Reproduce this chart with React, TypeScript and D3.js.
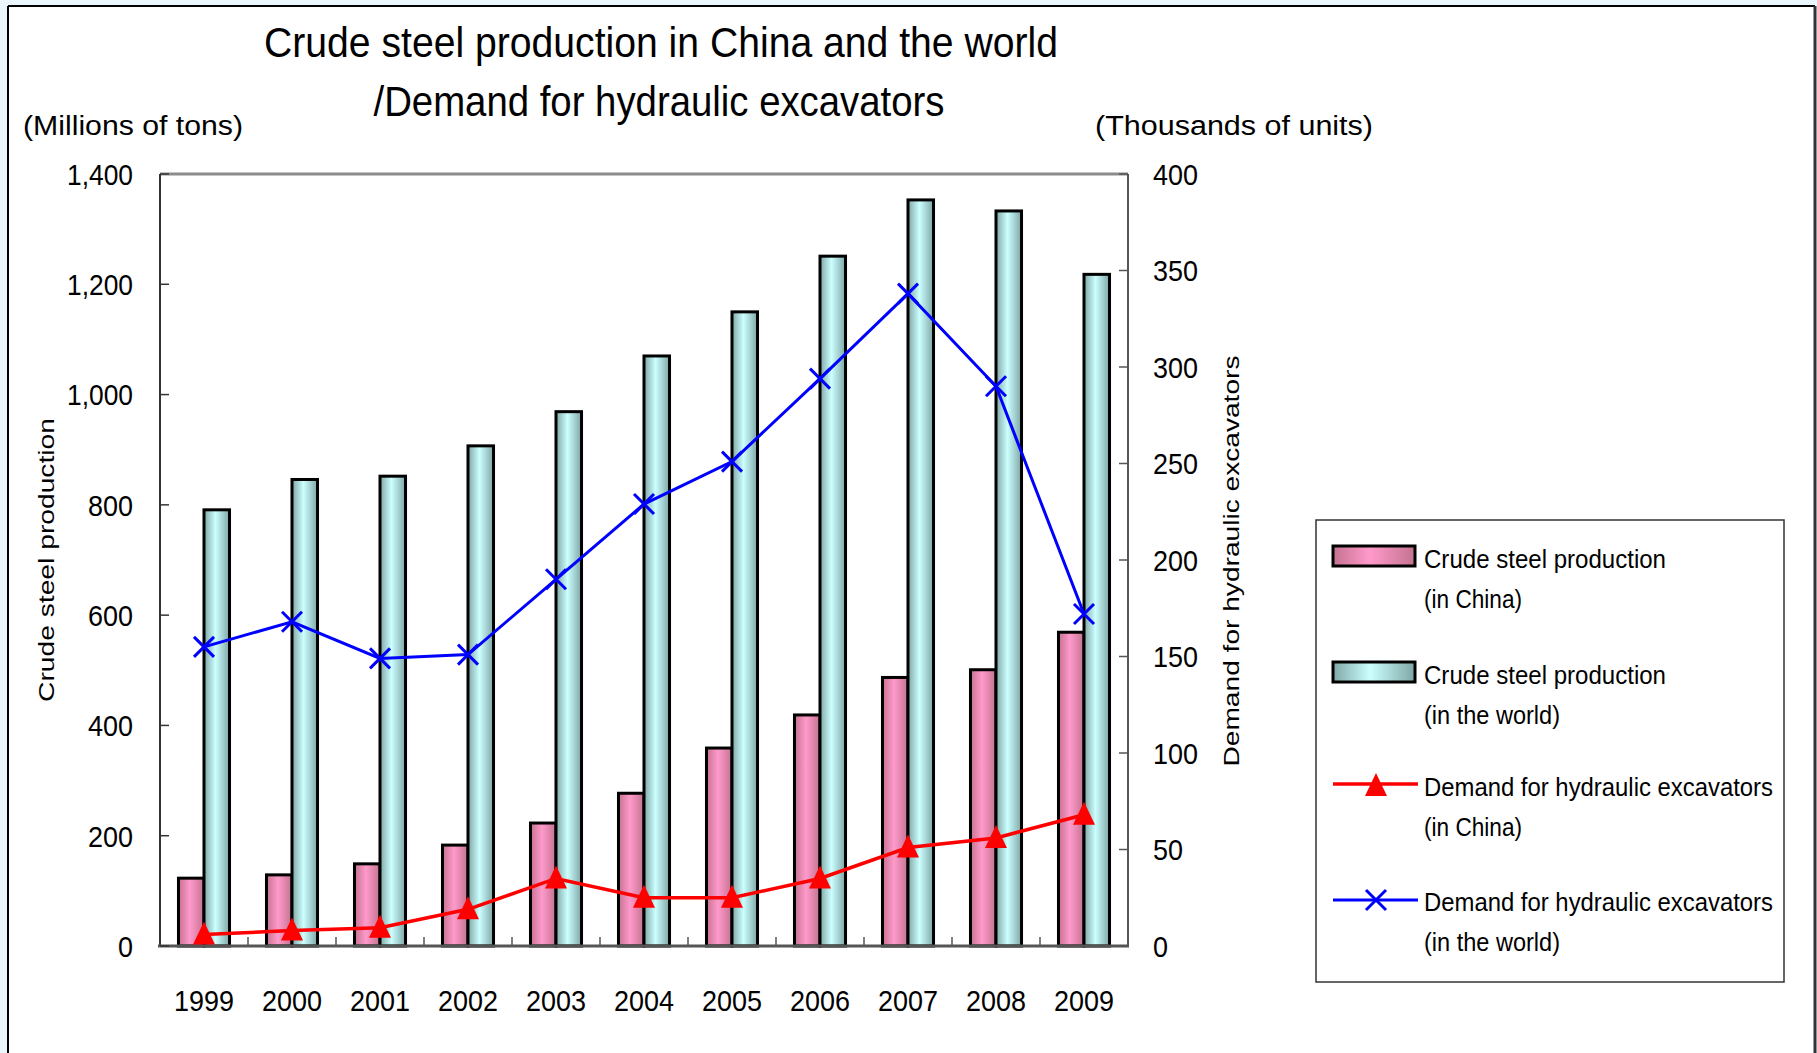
import * as d3 from "d3";

const years = ["1999", "2000", "2001", "2002", "2003", "2004", "2005", "2006", "2007", "2008", "2009"];
// crude steel production, millions of tons
const chinaSteel = [123, 129, 149, 183, 223, 277, 359, 419, 487, 501, 569];
const worldSteel = [791, 846, 852, 907, 969, 1070, 1150, 1251, 1353, 1333, 1218];
// demand for hydraulic excavators, thousands of units
const chinaExcavators = [6, 8, 9.5, 19, 35, 25, 25, 35, 51, 56, 68];
const worldExcavators = [155, 168, 149, 151, 190, 229, 251, 294, 338, 290, 172];

const steelTicks = [0, 200, 400, 600, 800, 1000, 1200, 1400];
const unitTicks = [0, 50, 100, 150, 200, 250, 300, 350, 400];

const W = 1817;
const H = 1053;
const plot = { left: 160, right: 1128, top: 174, bottom: 946 };
const font = "'Liberation Sans', Arial, sans-serif";

// narrow numeric labels: about 15px per digit, 6px per comma
const numWidth = (s: string) => s.replace(/,/g, "").length * 15 + (s.match(/,/g) || []).length * 6;

export default function App() {
  const x = d3
    .scaleBand<string>()
    .domain(years)
    .range([plot.left, plot.right])
    .paddingInner(0.42)
    .paddingOuter(0.21);
  const sub = d3.scaleBand<string>().domain(["china", "world"]).range([0, x.bandwidth()]);
  const yL = d3.scaleLinear().domain([0, 1400]).range([plot.bottom, plot.top]);
  const yR = d3.scaleLinear().domain([0, 400]).range([plot.bottom, plot.top]);
  const cx = (y: string) => (x(y) ?? 0) + x.bandwidth() / 2;

  const lineR = d3
    .line<number>()
    .x((_, i) => cx(years[i]))
    .y((d) => yR(d));

  const step = x.step();
  const tri = "M0,-13L11,10L-11,10Z";
  const cross = "M-10,-10L10,10M-10,10L10,-10";
  const fmt = d3.format(",");

  const bars = [
    { key: "china", values: chinaSteel, fill: "url(#gPink)" },
    { key: "world", values: worldSteel, fill: "url(#gCyan)" },
  ];

  const legendX = 1333;
  const legendText = 1424;

  return (
    <svg
      width={W}
      height={H}
      style={{ position: "absolute", left: 0, top: 0, fontFamily: font }}
    >
      <defs>
        <linearGradient id="gPink" x1="0" x2="1" y1="0" y2="0">
          <stop offset="0%" stopColor="#c47290" />
          <stop offset="45%" stopColor="#ff9acb" />
          <stop offset="100%" stopColor="#c47290" />
        </linearGradient>
        <linearGradient id="gCyan" x1="0" x2="1" y1="0" y2="0">
          <stop offset="0%" stopColor="#7fa6a6" />
          <stop offset="45%" stopColor="#ccffff" />
          <stop offset="100%" stopColor="#7fa6a6" />
        </linearGradient>
      </defs>

      <rect x={0} y={0} width={W} height={H} fill="#eaf5fc" />
      <rect x={8} y={6} width={1806} height={H} fill="#fff" />
      <line x1={8} y1={6} x2={8} y2={H} stroke="#000" strokeWidth={2} />
      <line x1={8} y1={6} x2={1815} y2={6} stroke="#000" strokeWidth={2} />
      <line x1={1815} y1={6} x2={1815} y2={H} stroke="#333" strokeWidth={3} />

      {/* title */}
      <text x={661} y={57} fontSize={42} textAnchor="middle" textLength={794} lengthAdjust="spacingAndGlyphs">
        Crude steel production in China and the world
      </text>
      <text x={659} y={116} fontSize={42} textAnchor="middle" textLength={571} lengthAdjust="spacingAndGlyphs">
        /Demand for hydraulic excavators
      </text>
      <text x={23} y={135} fontSize={27} textLength={220} lengthAdjust="spacingAndGlyphs">
        (Millions of tons)
      </text>
      <text x={1095} y={135} fontSize={27} textLength={278} lengthAdjust="spacingAndGlyphs">
        (Thousands of units)
      </text>

      {/* axis titles */}
      <text
        transform="translate(54,560) rotate(-90)"
        fontSize={22}
        textAnchor="middle"
        textLength={284}
        lengthAdjust="spacingAndGlyphs"
      >
        Crude steel production
      </text>
      <text
        transform="translate(1239,561) rotate(-90)"
        fontSize={22}
        textAnchor="middle"
        textLength={411}
        lengthAdjust="spacingAndGlyphs"
      >
        Demand for hydraulic excavators
      </text>

      {/* bars */}
      {bars.map((s) =>
        s.values.map((v, i) => (
          <rect
            key={s.key + years[i]}
            x={(x(years[i]) ?? 0) + (sub(s.key) ?? 0)}
            y={yL(v)}
            width={sub.bandwidth()}
            height={plot.bottom - yL(v)}
            fill={s.fill}
            stroke="#000"
            strokeWidth={3}
          />
        ))
      )}

      {/* frame and axes */}
      <line x1={plot.left} y1={plot.top} x2={plot.right} y2={plot.top} stroke="#8c8c8c" strokeWidth={3} />
      <line x1={plot.left} y1={plot.top} x2={plot.left} y2={plot.bottom} stroke="#333" strokeWidth={2} />
      <line x1={plot.right} y1={plot.top} x2={plot.right} y2={plot.bottom} stroke="#555" strokeWidth={2} />
      <line x1={plot.left - 2} y1={plot.bottom} x2={plot.right + 1} y2={plot.bottom} stroke="#555" strokeWidth={3} />

      {steelTicks.map((t) => (
        <g key={"l" + t}>
          <line x1={plot.left} x2={plot.left + 9} y1={yL(t)} y2={yL(t)} stroke="#333" strokeWidth={1.5} />
          <text
            x={133}
            y={yL(t)}
            dy="0.36em"
            fontSize={30}
            textAnchor="end"
            textLength={numWidth(fmt(t))}
            lengthAdjust="spacingAndGlyphs"
          >
            {fmt(t)}
          </text>
        </g>
      ))}
      {unitTicks.map((t) => (
        <g key={"r" + t}>
          <line x1={plot.right - 9} x2={plot.right} y1={yR(t)} y2={yR(t)} stroke="#555" strokeWidth={1.5} />
          <text
            x={1153}
            y={yR(t)}
            dy="0.36em"
            fontSize={30}
            textLength={numWidth(String(t))}
            lengthAdjust="spacingAndGlyphs"
          >
            {t}
          </text>
        </g>
      ))}
      {years.slice(1).map((yr) => (
        <line
          key={"xt" + yr}
          x1={(x(yr) ?? 0) - (step - x.bandwidth()) / 2}
          x2={(x(yr) ?? 0) - (step - x.bandwidth()) / 2}
          y1={plot.bottom}
          y2={plot.bottom - 9}
          stroke="#555"
          strokeWidth={1.5}
        />
      ))}
      {years.map((yr) => (
        <text
          key={"xl" + yr}
          x={cx(yr)}
          y={1011}
          fontSize={30}
          textAnchor="middle"
          textLength={60}
          lengthAdjust="spacingAndGlyphs"
        >
          {yr}
        </text>
      ))}

      {/* lines */}
      <path d={lineR(chinaExcavators) ?? ""} fill="none" stroke="#ff0000" strokeWidth={3.5} />
      {chinaExcavators.map((v, i) => (
        <path key={"t" + i} d={tri} transform={`translate(${cx(years[i])},${yR(v)})`} fill="#ff0000" />
      ))}
      <path d={lineR(worldExcavators) ?? ""} fill="none" stroke="#0000ff" strokeWidth={3} />
      {worldExcavators.map((v, i) => (
        <path
          key={"c" + i}
          d={cross}
          transform={`translate(${cx(years[i])},${yR(v)})`}
          fill="none"
          stroke="#0000ff"
          strokeWidth={3}
        />
      ))}

      {/* legend */}
      <rect x={1316} y={520} width={468} height={462} fill="#fff" stroke="#333" strokeWidth={1.5} />
      <rect x={legendX} y={546} width={82} height={20} fill="url(#gPink)" stroke="#000" strokeWidth={3} />
      <text x={legendText} y={568} fontSize={25} textLength={242} lengthAdjust="spacingAndGlyphs">
        Crude steel production
      </text>
      <text x={legendText} y={608} fontSize={25} textLength={98} lengthAdjust="spacingAndGlyphs">
        (in China)
      </text>
      <rect x={legendX} y={662} width={82} height={20} fill="url(#gCyan)" stroke="#000" strokeWidth={3} />
      <text x={legendText} y={684} fontSize={25} textLength={242} lengthAdjust="spacingAndGlyphs">
        Crude steel production
      </text>
      <text x={legendText} y={724} fontSize={25} textLength={136} lengthAdjust="spacingAndGlyphs">
        (in the world)
      </text>
      <line x1={legendX} x2={1418} y1={784} y2={784} stroke="#ff0000" strokeWidth={3.5} />
      <path d={tri} transform="translate(1376,786)" fill="#ff0000" />
      <text x={legendText} y={796} fontSize={25} textLength={349} lengthAdjust="spacingAndGlyphs">
        Demand for hydraulic excavators
      </text>
      <text x={legendText} y={836} fontSize={25} textLength={98} lengthAdjust="spacingAndGlyphs">
        (in China)
      </text>
      <line x1={legendX} x2={1418} y1={900} y2={900} stroke="#0000ff" strokeWidth={3} />
      <path d={cross} transform="translate(1376,900)" fill="none" stroke="#0000ff" strokeWidth={3} />
      <text x={legendText} y={911} fontSize={25} textLength={349} lengthAdjust="spacingAndGlyphs">
        Demand for hydraulic excavators
      </text>
      <text x={legendText} y={951} fontSize={25} textLength={136} lengthAdjust="spacingAndGlyphs">
        (in the world)
      </text>
    </svg>
  );
}
